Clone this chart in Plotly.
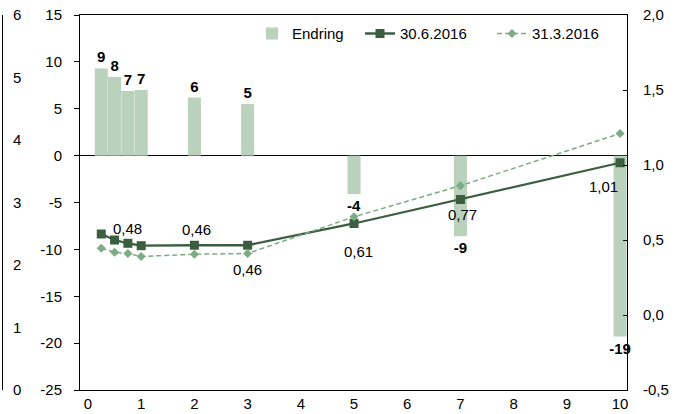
import plotly.graph_objects as go

# løpetid i år
maturity = [0.25, 0.5, 0.75, 1, 2, 3, 5, 7, 10]
endring = [9.3, 8.4, 6.9, 7.0, 6.2, 5.5, -4.1, -8.6, -19.3]
endring_labels = ["9", "8", "7", "7", "6", "5", "-4", "-9", "-19"]
rate_jun = [0.54, 0.50, 0.478, 0.462, 0.465, 0.465, 0.61, 0.77, 1.015]
rate_mar = [0.445, 0.418, 0.41, 0.39, 0.405, 0.41, 0.655, 0.862, 1.21]

# labels on the 30.6.2016 line: (index, text)
line_labels = [(2, "0,48"), (4, "0,46"), (5, "0,46"), (6, "0,61"), (7, "0,77"), (8, "1,01")]
label_shift = {2: (0, 15), 4: (2, 16), 5: (0, -24), 6: (4, -28), 7: (2, -15), 8: (-17, -24)}

left_ticks = [-25, -20, -15, -10, -5, 0, 5, 10, 15]
right_ticks = [-0.5, 0.0, 0.5, 1.0, 1.5, 2.0]
right_text = ["-0,5", "0,0", "0,5", "1,0", "1,5", "2,0"]
far_ticks = [0, 1, 2, 3, 4, 5, 6]
x_ticks = list(range(11))

FONT = "Liberation Sans, Arial, sans-serif"
W = 675.0

fig = go.Figure()
fig.add_trace(go.Bar(
    x=maturity, y=endring, name="Endring", width=0.245,
    marker=dict(color="#bad1bc", line=dict(width=0)),
    text=endring_labels, textposition="outside", constraintext="none",
    cliponaxis=False,
    textfont=dict(family=FONT, size=15, color="black", weight="bold"),
    yaxis="y", legend="legend",
))
fig.add_trace(go.Scatter(
    x=maturity, y=rate_jun, name="30.6.2016", mode="lines+markers",
    line=dict(color="#3b5e3f", width=2.3),
    marker=dict(symbol="square", size=9, color="#3b5e3f"),
    yaxis="y2", legend="legend2",
))
fig.add_trace(go.Scatter(
    x=maturity, y=rate_mar, name="31.3.2016", mode="lines+markers",
    line=dict(color="#7dab84", width=1.5, dash="5px,3px"),
    marker=dict(symbol="diamond", size=7, color="#7dab84"),
    yaxis="y2", legend="legend3",
))

for i, txt in line_labels:
    dx, dy = label_shift[i]
    fig.add_annotation(x=maturity[i], y=rate_jun[i], xref="x", yref="y2",
                       text=txt, showarrow=False, xshift=dx, yshift=dy,
                       font=dict(family=FONT, size=15, color="black"))

leg = dict(orientation="h", xanchor="left", y=0.95, yanchor="middle",
           font=dict(size=15), bgcolor="rgba(0,0,0,0)")

fig.update_layout(
    width=675, height=414,
    margin=dict(l=0, r=0, t=15, b=24),
    paper_bgcolor="white", plot_bgcolor="white",
    font=dict(family=FONT, size=15, color="black"),
    showlegend=True,
    legend=dict(leg, x=252 / W),
    legend2=dict(leg, x=360 / W),
    legend3=dict(leg, x=492 / W),
    xaxis=dict(domain=[80 / W, 627 / W], range=[-0.15, 10.13],
               tickvals=x_ticks, ticktext=[str(v) for v in x_ticks],
               showline=True, linecolor="black", linewidth=1, mirror=True,
               showgrid=False, zeroline=False, ticks=""),
    yaxis=dict(range=[-25, 15], tickvals=left_ticks,
               ticktext=[str(v) for v in left_ticks],
               showline=True, linecolor="black", linewidth=1,
               ticks="outside", ticklen=5, tickcolor="black",
               ticklabelstandoff=9,
               showgrid=False, zeroline=True, zerolinecolor="black", zerolinewidth=1),
    yaxis2=dict(range=[-0.5, 2.0], overlaying="y", side="right", anchor="x",
                tickvals=right_ticks, ticktext=right_text,
                showline=True, linecolor="black", linewidth=1,
                ticks="inside", ticklen=4, tickcolor="black",
                ticklabelstandoff=12,
                showgrid=False, zeroline=False),
    yaxis3=dict(range=[0, 6], overlaying="y", side="right", anchor="free",
                position=2 / W, tickvals=far_ticks,
                ticktext=[str(v) for v in far_ticks],
                showline=True, linecolor="black", linewidth=1,
                ticks="", ticklabelstandoff=7,
                showgrid=False, zeroline=False),
)
# dummy trace so the far-left axis is drawn
fig.add_trace(go.Scatter(x=[None], y=[None], yaxis="y3", showlegend=False, hoverinfo="skip"))

fig.write_html("out.html", config={"displayModeBar": False},
               post_script="document.body.style.margin='0';")
